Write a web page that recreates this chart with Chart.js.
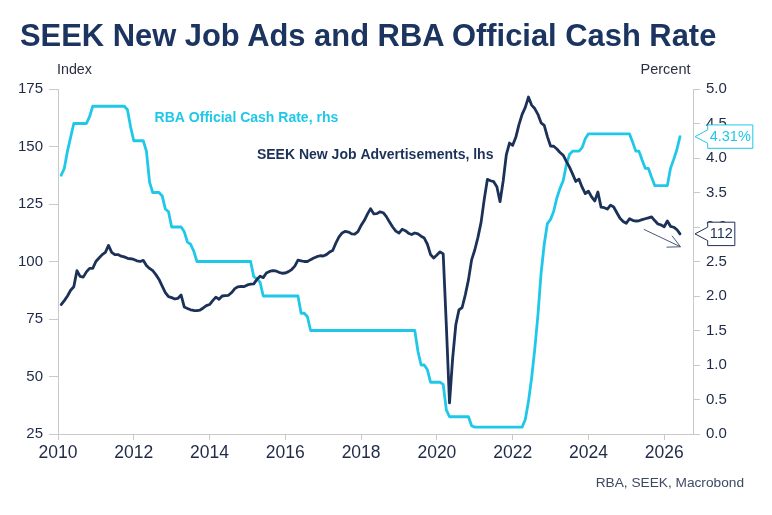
<!DOCTYPE html>
<html>
<head>
<meta charset="utf-8">
<script src="https://cdn.jsdelivr.net/npm/chart.js@4.4.1/dist/chart.umd.min.js"></script>
<style>
html,body{margin:0;padding:0;background:#fff;}
#wrap{position:relative;width:772px;height:515px;overflow:hidden;font-family:Arial,"Liberation Sans",sans-serif;}
#c{position:absolute;left:0;top:0;}
.t{position:absolute;white-space:nowrap;line-height:1;}
#title{left:20px;top:21px;font-size:30.9px;font-weight:bold;color:#1b3560;}
#idx{left:57px;top:62px;font-size:14.3px;color:#2b3142;}
#pct{left:640.5px;top:62px;font-size:14.5px;color:#2b3142;}
#src{right:28px;top:476px;font-size:13.7px;color:#3e4a63;}
</style>
</head>
<body>
<div id="wrap">
<canvas id="c" width="772" height="515"></canvas>
<div class="t" id="title">SEEK New Job Ads and RBA Official Cash Rate</div>
<div class="t" id="idx">Index</div>
<div class="t" id="pct">Percent</div>
<div class="t" id="src">RBA, SEEK, Macrobond</div>
</div>
<script>
// ---- data (monthly, Jan 2010 .. May 2026) ----
const startYear = 2010;
const seekIndex = [
  81.3, 83, 85, 87.5, 89, 96, 93.5, 93.2, 95.5, 97, 97, 100,            // 2010
  101.5, 103, 104, 107, 104, 103, 103, 102.3, 102, 101.4, 101.2, 100.9, // 2011
  100.3, 100, 100.5, 98.3, 97, 96, 94.3, 92.2, 89.3, 86.5, 84.7, 84.3,  // 2012
  83.7, 84, 85.4, 80.2, 79.6, 79, 78.7, 78.6, 78.9, 79.8, 80.8, 81.3,   // 2013
  83, 84.5, 83.6, 85, 85.2, 85.3, 86.5, 88.2, 89, 89.2, 89.1, 89.8,     // 2014
  90.2, 90.3, 92.2, 93.6, 93, 95, 95.7, 96, 95.9, 95.3, 94.9, 95,       // 2015
  95.6, 96.5, 98, 100.6, 100.3, 100, 100, 100.8, 101.5, 102.1, 102.5, 102.4, // 2016
  103, 104.1, 104.8, 108, 110.7, 112.4, 113.1, 112.8, 112, 111.9, 113, 115.7, // 2017
  117.8, 120.6, 123, 120.7, 120.8, 121.6, 121.2, 119.5, 117.2, 115, 113.2, 112.4, // 2018
  114, 113.4, 112.3, 111.7, 112.4, 112, 111, 110.2, 107.5, 103, 101.5, 102.8, // 2019
  104.2, 103.3, 72, 38.5, 58, 72.5, 79, 80, 85.5, 92, 100.7, 105,       // 2020
  110.5, 117, 127, 135.7, 135.1, 134.7, 132.5, 126, 135, 146.5, 151.5, 150.5, // 2021
  154, 159.5, 164, 167, 171.5, 168, 166.5, 164, 160.3, 159.2, 154.3, 150.2, // 2022
  150.1, 148.9, 147.4, 146.2, 143.5, 141, 138, 134.8, 135.8, 132.3, 129.5, 130.6, // 2023
  128.1, 126.3, 130.2, 123.6, 123.4, 122.8, 124.5, 123.7, 121.2, 118.8, 117.4, 116.6, // 2024
  118.6, 117.9, 117.6, 117.7, 118.2, 118.6, 119, 119.4, 117.8, 116.3, 115.9, 115.1, // 2025
  117.6, 115.3, 114.9, 113.9, 112                                        // 2026
];
const cashRate = [
  3.75, 3.85, 4.1, 4.3, 4.5, 4.5, 4.5, 4.5, 4.5, 4.6, 4.75, 4.75,       // 2010
  4.75, 4.75, 4.75, 4.75, 4.75, 4.75, 4.75, 4.75, 4.75, 4.7, 4.45, 4.25, // 2011
  4.25, 4.25, 4.25, 4.1, 3.65, 3.5, 3.5, 3.5, 3.45, 3.26, 3.22, 3.0,    // 2012
  3.0, 3.0, 3.0, 2.93, 2.78, 2.75, 2.65, 2.5, 2.5, 2.5, 2.5, 2.5,       // 2013
  2.5, 2.5, 2.5, 2.5, 2.5, 2.5, 2.5, 2.5, 2.5, 2.5, 2.5, 2.5,           // 2014
  2.5, 2.28, 2.25, 2.2, 2.0, 2.0, 2.0, 2.0, 2.0, 2.0, 2.0, 2.0,         // 2015
  2.0, 2.0, 2.0, 2.0, 1.75, 1.75, 1.7, 1.5, 1.5, 1.5, 1.5, 1.5,         // 2016
  1.5, 1.5, 1.5, 1.5, 1.5, 1.5, 1.5, 1.5, 1.5, 1.5, 1.5, 1.5,           // 2017
  1.5, 1.5, 1.5, 1.5, 1.5, 1.5, 1.5, 1.5, 1.5, 1.5, 1.5, 1.5,           // 2018
  1.5, 1.5, 1.5, 1.5, 1.5, 1.2, 1.0, 1.0, 0.93, 0.75, 0.75, 0.75,       // 2019
  0.75, 0.72, 0.35, 0.25, 0.25, 0.25, 0.25, 0.25, 0.25, 0.25, 0.12, 0.1, // 2020
  0.1, 0.1, 0.1, 0.1, 0.1, 0.1, 0.1, 0.1, 0.1, 0.1, 0.1, 0.1,           // 2021
  0.1, 0.1, 0.1, 0.21, 0.47, 0.81, 1.23, 1.72, 2.33, 2.75, 3.05, 3.11,  // 2022
  3.23, 3.42, 3.56, 3.67, 3.9, 4.05, 4.1, 4.1, 4.1, 4.15, 4.28, 4.35,   // 2023
  4.35, 4.35, 4.35, 4.35, 4.35, 4.35, 4.35, 4.35, 4.35, 4.35, 4.35, 4.35, // 2024
  4.35, 4.23, 4.1, 4.1, 3.97, 3.85, 3.85, 3.72, 3.6, 3.6, 3.6, 3.6,     // 2025
  3.6, 3.85, 3.98, 4.12, 4.31                                           // 2026
];
const xTickYears = [2010, 2012, 2014, 2016, 2018, 2020, 2022, 2024, 2026];
const leftTicks = [25, 50, 75, 100, 125, 150, 175];
const rightTicks = [0, 0.5, 1, 1.5, 2, 2.5, 3, 3.5, 4, 4.5, 5];
const seriesNames = ['SEEK New Job Advertisements, lhs', 'RBA Official Cash Rate, rhs'];

// ---- style ----
const NAVY = '#1c3158';
const CYAN = '#1fc8e8';
const AXIS = '#c9c9c9';
const TICKTXT = '#1f2a48';
const FONT = 'Arial, "Liberation Sans", sans-serif';

// label anchors in data units
const seekLabelAt = {x: 2015.25, y: 144.4};   // lhs units
const rateLabelAt = {x: 2012.55, y: 4.52};    // rhs units
const trendArrow = {from: {x: 2025.46, y: 114}, to: {x: 2026.43, y: 106.4}}; // lhs units

const monthX = i => startYear + (i + 1) / 12;
const toPoints = arr => arr.map((v, i) => ({x: monthX(i), y: v}));

function callout(ctx, tipX, yc, text, stroke, color) {
  ctx.font = '14.5px ' + FONT;
  const w = ctx.measureText(text).width + 4;
  const L = tipX + 12.7, T = yc - 11.7, B = yc + 11.7, R = L + w;
  ctx.beginPath();
  ctx.moveTo(tipX, yc);
  ctx.lineTo(L, yc - 6.7);
  ctx.lineTo(L, T);
  ctx.lineTo(R, T);
  ctx.lineTo(R, B);
  ctx.lineTo(L, B);
  ctx.lineTo(L, yc + 6.7);
  ctx.closePath();
  ctx.fillStyle = '#ffffff';
  ctx.fill();
  ctx.lineWidth = 1;
  ctx.strokeStyle = stroke;
  ctx.stroke();
  ctx.fillStyle = color;
  ctx.textBaseline = 'middle';
  ctx.textAlign = 'left';
  ctx.fillText(text, L + 2, yc + 0.5);
}

const annot = {
  id: 'annot',
  afterDraw(chart) {
    const {ctx, chartArea} = chart;
    const x = chart.scales.x, yL = chart.scales.yL, yR = chart.scales.yR;
    ctx.save();
    ctx.font = 'bold 14px ' + FONT;
    ctx.textBaseline = 'alphabetic';
    ctx.textAlign = 'left';
    ctx.fillStyle = CYAN;
    ctx.fillText(seriesNames[1], x.getPixelForValue(rateLabelAt.x), yR.getPixelForValue(rateLabelAt.y));
    ctx.fillStyle = NAVY;
    ctx.fillText(seriesNames[0], x.getPixelForValue(seekLabelAt.x), yL.getPixelForValue(seekLabelAt.y));

    // trend arrow
    const x1 = x.getPixelForValue(trendArrow.from.x), y1 = yL.getPixelForValue(trendArrow.from.y);
    const x2 = x.getPixelForValue(trendArrow.to.x), y2 = yL.getPixelForValue(trendArrow.to.y);
    const ang = Math.atan2(y2 - y1, x2 - x1);
    const hl = 14, ha = 27 * Math.PI / 180;
    ctx.strokeStyle = '#4a5878';
    ctx.lineWidth = 1;
    ctx.beginPath();
    ctx.moveTo(x1, y1); ctx.lineTo(x2, y2);
    ctx.moveTo(x2 - hl * Math.cos(ang - ha), y2 - hl * Math.sin(ang - ha));
    ctx.lineTo(x2, y2);
    ctx.lineTo(x2 - hl * Math.cos(ang + ha), y2 - hl * Math.sin(ang + ha));
    ctx.stroke();

    const lastRate = cashRate[cashRate.length - 1];
    const lastSeek = seekIndex[seekIndex.length - 1];
    callout(ctx, chartArea.right + 2, yR.getPixelForValue(lastRate), lastRate.toFixed(2) + '%', CYAN, CYAN);
    callout(ctx, chartArea.right + 2, yL.getPixelForValue(lastSeek), lastSeek.toFixed(0), NAVY, NAVY);
    ctx.restore();
  }
};

new Chart(document.getElementById('c'), {
  type: 'line',
  data: {
    datasets: [
      {label: seriesNames[0], data: toPoints(seekIndex), yAxisID: 'yL', borderColor: NAVY, borderWidth: 2.8,
       pointRadius: 0, tension: 0, borderJoinStyle: 'round', borderCapStyle: 'round', fill: false},
      {label: seriesNames[1], data: toPoints(cashRate), yAxisID: 'yR', borderColor: CYAN, borderWidth: 2.8,
       pointRadius: 0, tension: 0, borderJoinStyle: 'round', borderCapStyle: 'round', fill: false}
    ]
  },
  options: {
    responsive: false,
    animation: false,
    devicePixelRatio: window.devicePixelRatio || 1,
    layout: {padding: {top: 89, bottom: 31, left: 0, right: 0}},
    plugins: {legend: {display: false}, tooltip: {enabled: false}, title: {display: false}},
    scales: {
      x: {
        type: 'linear', min: 2010, max: 2026.76,
        afterBuildTicks: s => { s.ticks = xTickYears.map(v => ({value: v})); },
        afterFit: s => { s.height = 50; },
        ticks: {font: {size: 17.5, family: FONT}, color: TICKTXT, padding: 3, maxRotation: 0, autoSkip: false,
                callback: v => String(v)},
        grid: {drawOnChartArea: false, tickLength: 6, color: AXIS},
        border: {color: AXIS}
      },
      yL: {
        type: 'linear', position: 'left', min: 25, max: 175,
        afterBuildTicks: s => { s.ticks = leftTicks.map(v => ({value: v})); },
        afterFit: s => { s.width = 58; },
        ticks: {font: {size: 15, family: FONT}, color: TICKTXT, padding: 6, callback: v => String(v)},
        grid: {drawOnChartArea: false, tickLength: 9, color: AXIS},
        border: {color: AXIS}
      },
      yR: {
        type: 'linear', position: 'right', min: 0, max: 5,
        afterBuildTicks: s => { s.ticks = rightTicks.map(v => ({value: v})); },
        afterFit: s => { s.width = 79; },
        ticks: {font: {size: 15, family: FONT}, color: TICKTXT, padding: 6, callback: v => v.toFixed(1)},
        grid: {drawOnChartArea: false, tickLength: 7, color: AXIS},
        border: {color: AXIS}
      }
    }
  },
  plugins: [annot]
});
</script>
</body>
</html>
